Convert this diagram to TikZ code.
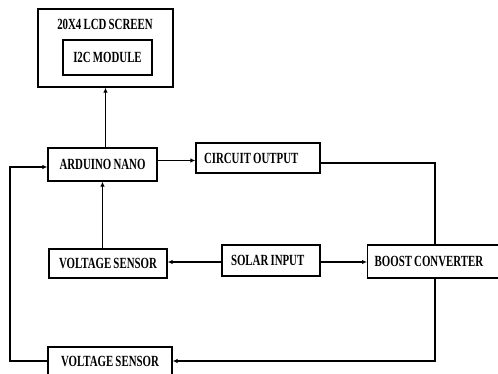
\documentclass[tikz,border=0pt]{standalone}
\usepackage{fontspec}
\setmainfont{Liberation Serif}[FakeStretch=0.7, WordSpace=0.8]
\usetikzlibrary{arrows.meta}
\newcommand{\leftlabel}[2]{\makebox[#1][l]{#2}}
\tikzset{
  blockbox/.style={draw, line width=1.3pt, inner sep=0pt, font=\fontsize{15.5}{17}\selectfont\bfseries},
  arr/.style={line width=1.1pt, -{Latex[length=5pt,width=4.5pt]}},
  wire/.style={line width=1.1pt}
}
\begin{document}
\begin{tikzpicture}[x=1pt,y=-1pt]
\useasboundingbox (0,0) rectangle (498,374);
\clip (0,0) rectangle (498,374);
% display
\node[blockbox, minimum width=135pt, minimum height=78pt] (lcd) at (105.5,48) {};
\node[font=\fontsize{15.5}{17}\selectfont\bfseries, inner sep=0pt] (lcdtitle) at (105,24) {20X4 LCD SCREEN};
\node[blockbox, minimum width=89pt, minimum height=35pt] (itwoc) at (107.5,57.5) {I2C MODULE};
% controller and outputs
\node[blockbox, minimum width=109pt, minimum height=33pt] (ard) at (102.5,164.5) {ARDUINO NANO};
\node[blockbox, inner xsep=8pt, minimum height=30pt] (out) at (258,158) {\leftlabel{108pt}{CIRCUIT OUTPUT}};
% sensing row
\node[blockbox, minimum width=118pt, minimum height=29pt] (vsone) at (108,263.5) {VOLTAGE SENSOR};
\node[blockbox, inner xsep=9pt, minimum height=31pt] (solar) at (271,260.5) {\leftlabel{80pt}{SOLAR INPUT}};
\node[blockbox, anchor=west, inner xsep=7pt, minimum height=33pt] (boost) at (367,261.5) {\leftlabel{140pt}{BOOST CONVERTER}};
\node[blockbox, minimum width=124pt, minimum height=28pt] (vstwo) at (110,361) {VOLTAGE SENSOR};
% connectors
\coordinate (outcorner) at (435,163);
\coordinate (botcorner) at (435,361);
\coordinate (leftbot) at (10,361);
\coordinate (lefttop) at (10,167);
\draw[arr] (ard.north -| lcd.south) -- (lcd.south);
\draw[arr] (vsone.north -| ard.south) -- (ard.south);
\draw[arr] ([yshift=4pt]ard.east) -- ([yshift=4pt]ard.east -| out.west);
\draw[wire] (outcorner -| out.east) -- (outcorner) -- (outcorner |- boost.north);
\draw[arr] (solar.west |- 0,262) -- (vsone.east |- 0,262);
\draw[arr] (solar.east |- 0,262) -- (boost.west |- 0,262);
\draw[arr] (botcorner |- boost.south) -- (botcorner) -- (vstwo.east);
\draw[arr] (vstwo.west) -- (leftbot) -- (lefttop) -- (lefttop -| ard.west);
\end{tikzpicture}
\end{document}
